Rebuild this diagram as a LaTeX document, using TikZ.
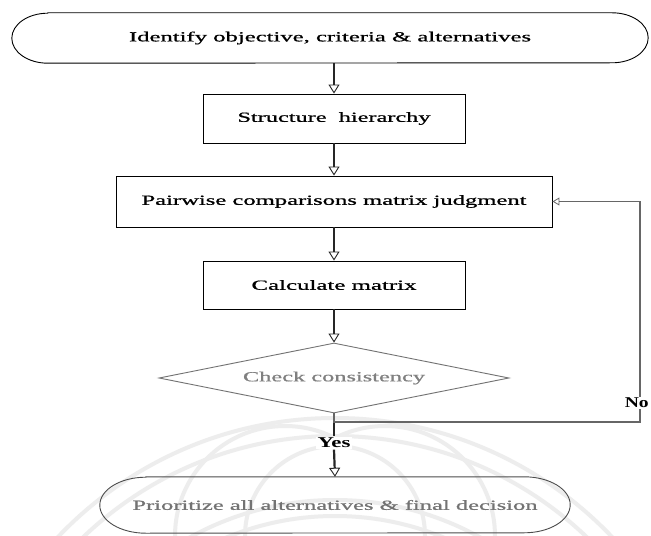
\documentclass[tikz,border=0pt]{standalone}
\usepackage{fontspec}
\setmainfont{Liberation Serif}
\newfontfamily\labelfont{Liberation Serif}[FakeBold=0.7]
\usetikzlibrary{arrows.meta,shapes.geometric}

% stretch a label horizontally to a given width (in bp), keeping its height
\newcommand{\wide}[2]{\resizebox{#1bp}{\height}{#2}}
% outline with elliptical ends around a node: name, x radius, y radius
\newcommand{\stadiumpath}[4][]{%
  \draw[#1] ([xshift=#3]#2.north west) -- ([xshift=-#3]#2.north east)
    arc[start angle=90, end angle=-90, x radius=#3, y radius=#4]
    -- ([xshift=#3]#2.south west)
    arc[start angle=270, end angle=90, x radius=#3, y radius=#4] -- cycle;}

\tikzset{
  txt/.style={font=\labelfont\fontsize{14}{16}\selectfont, inner sep=0pt},
  termbox/.style={txt, draw=none, minimum height=50bp},
  procbox/.style={txt, draw=black, line width=0.9bp},
  decision/.style={txt, diamond, draw=black!55, line width=0.9bp, shape aspect=5},
  flow/.style={draw=black!85, line width=2.2bp,
    -{Triangle[open, length=9bp, width=11bp, line width=0.9bp]}},
  feedback/.style={draw=black!60, line width=1.8bp,
    -{Triangle[open, length=7bp, width=8bp, line width=0.8bp]}},
  tag/.style={font=\bfseries\fontsize{15}{17}\selectfont, fill=white, inner sep=1.5bp},
  emblem/.style={draw=black!7, line width=4bp}
}

\begin{document}
\begin{tikzpicture}[x=1bp, y=-1bp]
  \fill[white] (0,0) rectangle (651,536);
  \useasboundingbox (0,0) rectangle (651,536);

  % faint emblem in the background
  \begin{scope}
    \clip (0,0) rectangle (651,536);
    \draw[emblem] (335,800) circle[radius=382bp];
    \draw[emblem] (335,800) circle[radius=364bp];
    \draw[emblem] (335,800) circle[radius=300bp];
    \draw[emblem] (335,800) circle[radius=284bp];
    \draw[emblem] (175,536) arc[start angle=180, end angle=60, radius=110bp];
    \draw[emblem] (495,536) arc[start angle=0, end angle=120, radius=110bp];
    \draw[emblem] (245,536) arc[start angle=180, end angle=0, radius=90bp];
  \end{scope}

  % steps
  \node[termbox, minimum width=636bp] (start) at (330,38)
    {\wide{402}{Identify objective, criteria \& alternatives}};
  \stadiumpath[draw=black, line width=0.9bp]{start}{36bp}{25bp}

  \node[procbox, minimum width=262bp, minimum height=49bp] (struct) at (334,118.5)
    {\wide{193}{Structure\ \ hierarchy}};
  \node[procbox, minimum width=436bp, minimum height=51bp] (pair) at (334,201.5)
    {\wide{385}{Pairwise comparisons matrix judgment}};
  \node[procbox, minimum width=262bp, minimum height=48bp] (calc) at (334,285)
    {\wide{165}{Calculate matrix}};
  \node[decision, minimum width=350bp, minimum height=70bp, text=black!50] (check) at (334,378)
    {\wide{182}{Check consistency}};

  \node[tag] (yes) at (334,443) {\wide{33}{Yes}};

  \node[termbox, minimum width=470bp, minimum height=56bp, text=black!55] (final) at (335,505)
    {\wide{405}{Prioritize all alternatives \& final decision}};
  \stadiumpath[draw=black!70, line width=0.9bp]{final}{46bp}{28bp}

  % connectors
  \draw[flow] (start.south -| struct.north) -- (struct.north);
  \draw[flow] (struct) -- (pair);
  \draw[flow] (pair) -- (calc);
  \draw[flow] (calc) -- (check);
  \draw[draw=black!85, line width=2.2bp] (check.south) -- (yes.north);
  \draw[flow] (yes.south) -- (final.north);

  \coordinate (loop) at (640,422);
  \draw[feedback] (check.south) |- (loop) -- (loop |- pair.east) -- (pair.east);
  \node[tag, anchor=east, inner sep=1bp] (no) at (650,403) {\wide{24}{No}};
\end{tikzpicture}
\end{document}
